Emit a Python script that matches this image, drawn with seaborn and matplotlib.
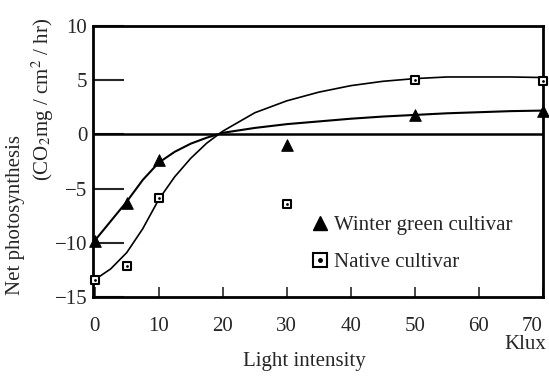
import numpy as np
import pandas as pd
import matplotlib
matplotlib.use("Agg")
import matplotlib.pyplot as plt
import seaborn as sns
from matplotlib.lines import Line2D
from matplotlib.legend_handler import HandlerTuple

sns.set_theme(style="ticks")
plt.rcParams['font.family'] = ['Liberation Serif', 'DejaVu Serif']
plt.rcParams['mathtext.fontset'] = 'stix'

# measured points
light_pts = [0, 5, 10, 30, 50, 70]
winter_pts = [-9.8, -6.3, -2.4, -1.0, 1.8, 2.2]
native_pts = [-13.4, -12.1, -5.9, -6.4, 5.0, 4.9]

# fitted curves
curve_x = [0, 2.5, 5, 7.5, 10, 12.5, 15, 17.5, 20, 25, 30, 35, 40, 45, 50, 55, 60, 65, 70]
winter_curve = [-9.8, -8.0, -6.2, -4.2, -2.6, -1.6, -0.85, -0.3, 0.15, 0.6, 0.95, 1.2, 1.45, 1.65, 1.8, 1.95, 2.05, 2.15, 2.2]
native_curve = [-13.4, -12.4, -10.9, -8.7, -6.0, -3.9, -2.2, -0.8, 0.3, 2.0, 3.1, 3.9, 4.5, 4.9, 5.15, 5.3, 5.3, 5.3, 5.25]

x_ticks = [0, 10, 20, 30, 40, 50, 60, 70]
y_ticks = [-15, -10, -5, 0, 5, 10]

fig = plt.figure(figsize=(5.49, 3.77), dpi=100)
ax = fig.add_axes([0.169, 0.212, 0.820, 0.719])

ax.axhline(0, color='black', lw=1.8, zorder=1)

curves = pd.DataFrame({'x': curve_x, 'winter': winter_curve, 'native': native_curve})
sns.lineplot(data=curves, x='x', y='winter', ax=ax, color='black', lw=1.5, zorder=2)
sns.lineplot(data=curves, x='x', y='native', ax=ax, color='black', lw=1.2, zorder=2)

pts = pd.DataFrame({'x': light_pts, 'winter': winter_pts, 'native': native_pts})
sns.scatterplot(data=pts, x='x', y='winter', ax=ax, marker='^', s=70, color='black',
                edgecolor='black', zorder=3, clip_on=False)
sns.scatterplot(data=pts, x='x', y='native', ax=ax, marker='s', s=32, color='white',
                edgecolor='black', linewidth=1.5, zorder=3, clip_on=False)
sns.scatterplot(data=pts, x='x', y='native', ax=ax, marker='o', s=4, color='black',
                edgecolor='black', linewidth=0, zorder=4, clip_on=False)

ax.set_xlim(-0.3, 70)
ax.set_ylim(-15, 10)
ax.set_xticks(x_ticks)
ax.set_yticks(y_ticks)
ax.set_yticklabels(['\u221215', '\u221210', '\u22125', '0', '5', '10'])
ax.tick_params(axis='y', direction='in', length=22, width=1.5, labelsize=15, pad=4)
ax.tick_params(axis='x', direction='in', length=7, width=1.2, labelsize=15, pad=14)
xl = ax.get_xticklabels()
xl[-1].set_horizontalalignment('right')
for s in ax.spines.values():
    s.set_linewidth(2)
    s.set_color('black')
ax.set_xlabel('')
ax.set_ylabel('')

fig.text(0.555, 0.04, 'Light intensity', ha='center', va='center', fontsize=15)
fig.text(0.956, 0.085, 'Klux', ha='center', va='center', fontsize=15)
fig.text(0.029, 0.43, 'Net photosynthesis', rotation=90, ha='center', va='center', fontsize=15)
fig.text(0.078, 0.737, '(CO$_2$mg / cm$^2$ / hr)', rotation=90, ha='center', va='center', fontsize=15)

h1 = Line2D([], [], marker='^', color='black', ls='', markersize=10)
h2a = Line2D([], [], marker='s', markerfacecolor='white', markeredgecolor='black', ls='',
             markersize=10, markeredgewidth=1.5)
h2b = Line2D([], [], marker='o', color='black', ls='', markersize=2.5)
ax.legend([h1, (h2a, h2b)], ['Winter green cultivar', 'Native cultivar'],
          handler_map={tuple: HandlerTuple(ndivide=1, pad=0)},
          loc='upper left', bbox_to_anchor=(0.462, 0.34), frameon=False, fontsize=15,
          handlelength=0.8, handletextpad=0.3, labelspacing=0.85, borderpad=0)

fig.savefig('out.png', dpi=100)
